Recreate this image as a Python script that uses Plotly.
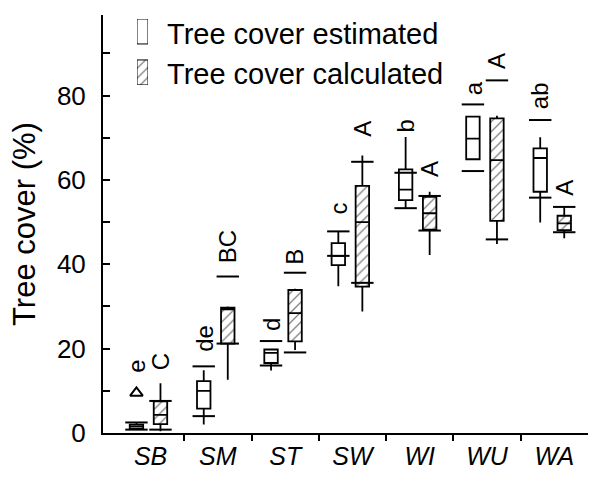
import plotly.graph_objects as go

# ---------------- data ----------------
categories = ["SB", "SM", "ST", "SW", "WI", "WU", "WA"]

# Tree cover estimated (open boxes)
est_q1 = [1.0, 5.8, 16.6, 39.8, 55.2, 64.9, 57.2]
est_median = [1.5, 10.0, 19.0, 42.0, 57.7, 69.8, 65.2]
est_q3 = [2.0, 12.3, 19.8, 45.0, 62.5, 75.0, 67.5]
est_whisker_low = [0.8, 2.0, 14.8, 34.8, 53.3, 64.9, 49.9]
est_whisker_high = [2.5, 14.9, 19.8, 47.8, 70.2, 75.0, 70.1]
est_mark_high = [2.5, 15.8, 21.8, 47.8, 61.7, 77.9, 74.2]
est_mark_low = [0.8, 4.0, 16.0, 42.0, 53.3, 62.1, 55.8]
est_outlier_cat = ["SB"]
est_outlier_val = [9.5]
est_letters = ["e", "de", "d", "c", "b", "a", "ab"]
est_letter_y = [15.8, 22.5, 25.6, 53.3, 72.8, 81.7, 79.9]

# Tree cover calculated (hatched boxes)
calc_q1 = [2.1, 21.2, 21.7, 34.7, 48.2, 50.3, 48.1]
calc_median = [4.3, 29.3, 28.4, 50.0, 52.1, 64.7, 49.7]
calc_q3 = [7.5, 29.7, 33.9, 58.6, 56.0, 74.6, 51.5]
calc_whisker_low = [0.4, 12.6, 19.7, 28.8, 42.2, 44.8, 46.2]
calc_whisker_high = [11.8, 30.0, 34.2, 65.8, 57.2, 75.2, 53.6]
calc_mark_high = [7.6, 37.1, 38.0, 64.3, 56.2, 83.6, 53.6]
calc_mark_low = [0.8, 21.2, 19.1, 35.6, 48.0, 45.9, 47.6]
calc_letters = ["C", "BC", "B", "A", "A", "A", "A"]
calc_letter_y = [16.9, 44.2, 41.8, 72.2, 62.5, 88.2, 58.2]

y_ticks = [0, 20, 40, 60, 80]
y_minor_ticks = [10, 30, 50, 70, 90]
legend_labels = ["Tree cover estimated", "Tree cover calculated"]

# ---------------- layout helpers ----------------
EST_OFF = -0.21
CALC_OFF = 0.147
BOX_W = 0.2
FONT = "Liberation Sans, Arial, sans-serif"

idx = list(range(len(categories)))
est_x = [i + EST_OFF for i in idx]
calc_x = [i + CALC_OFF for i in idx]

fig = go.Figure()

# hatched fill for calculated boxes
fig.add_trace(go.Bar(
    x=calc_x, base=calc_q1, y=[h - l for h, l in zip(calc_q3, calc_q1)],
    width=BOX_W,
    marker=dict(color="white",
                pattern=dict(shape="/", fgcolor="black", bgcolor="white", size=7, solidity=0.18),
                line=dict(width=0)),
    showlegend=False, hoverinfo="skip"))

# boxes (outline, median, whiskers)
fig.add_trace(go.Box(
    x=est_x, q1=est_q1, median=est_median, q3=est_q3,
    lowerfence=est_whisker_low, upperfence=est_whisker_high,
    width=BOX_W, whiskerwidth=0, boxpoints=False,
    fillcolor="white", line=dict(color="black", width=1.8),
    showlegend=False, hoverinfo="skip"))
fig.add_trace(go.Box(
    x=calc_x, q1=calc_q1, median=calc_median, q3=calc_q3,
    lowerfence=calc_whisker_low, upperfence=calc_whisker_high,
    width=BOX_W, whiskerwidth=0, boxpoints=False,
    fillcolor="rgba(0,0,0,0)", line=dict(color="black", width=1.8),
    showlegend=False, hoverinfo="skip"))

# horizontal range marks
mark_style = dict(symbol="line-ew", size=16, color="black", line=dict(color="black", width=2))
fig.add_trace(go.Scatter(
    x=est_x + est_x, y=est_mark_high + est_mark_low, mode="markers",
    marker=mark_style, showlegend=False, hoverinfo="skip"))
fig.add_trace(go.Scatter(
    x=calc_x + calc_x, y=calc_mark_high + calc_mark_low, mode="markers",
    marker=mark_style, showlegend=False, hoverinfo="skip"))

# outlier triangle
fig.add_trace(go.Scatter(
    x=[categories.index(c) + EST_OFF for c in est_outlier_cat], y=est_outlier_val,
    mode="markers",
    marker=dict(symbol="triangle-up-open", size=11, color="black", line=dict(width=2)),
    showlegend=False, hoverinfo="skip"))

# significance letters
annotations = []
for xs, letters, ys in [(est_x, est_letters, est_letter_y), (calc_x, calc_letters, calc_letter_y)]:
    for x, t, y in zip(xs, letters, ys):
        annotations.append(dict(x=x, y=y, xref="x", yref="y", text=t, textangle=-90,
                                showarrow=False, font=dict(size=24, color="black", family=FONT)))

# legend symbols on a small overlay axis
fig.add_trace(go.Bar(
    x=[0], base=[41], y=[25], width=1, xaxis="x2", yaxis="y2",
    marker=dict(color="white", line=dict(color="black", width=1)),
    showlegend=False, hoverinfo="skip"))
fig.add_trace(go.Bar(
    x=[0], base=[0], y=[25], width=1, xaxis="x2", yaxis="y2",
    marker=dict(color="white",
                pattern=dict(shape="/", fgcolor="black", bgcolor="white", size=7, solidity=0.18),
                line=dict(color="black", width=1)),
    showlegend=False, hoverinfo="skip"))
for lab, yp in zip(legend_labels, [0.955, 0.86]):
    annotations.append(dict(x=0.128, y=yp, xref="paper", yref="paper", text=lab,
                            xanchor="left", yanchor="middle", showarrow=False,
                            font=dict(size=29, color="black", family=FONT)))

fig.update_layout(
    width=590, height=482,
    margin=dict(l=103, r=2, t=15, b=49),
    paper_bgcolor="white", plot_bgcolor="white",
    font=dict(family=FONT, color="black"),
    barmode="overlay", boxmode="overlay",
    showlegend=False,
    annotations=annotations,
    xaxis=dict(
        range=[-0.707, 6.5], tickmode="array", tickvals=idx,
        ticktext=[f"<i>{c}</i>" for c in categories], ticks="",
        tickfont=dict(size=25, color="black"),
        showline=True, linecolor="black", linewidth=2,
        showgrid=False, zeroline=False,
        minor=dict(tickmode="array", tickvals=[i + 0.5 for i in idx[:-1]],
                   ticks="outside", ticklen=6, tickwidth=2, tickcolor="black"),
    ),
    yaxis=dict(
        range=[0, 99.1], tickmode="array", tickvals=y_ticks,
        ticks="inside", ticklen=7, tickwidth=2, tickcolor="black",
        tickfont=dict(size=26, color="black"), ticklabelstandoff=10,
        showline=True, linecolor="black", linewidth=2,
        showgrid=False, zeroline=False,
        minor=dict(tickmode="array", tickvals=y_minor_ticks,
                   ticks="inside", ticklen=7, tickwidth=2, tickcolor="black"),
        title=dict(text="Tree cover (%)", font=dict(size=31, color="black"), standoff=12),
    ),
    xaxis2=dict(domain=[0.0701, 0.0928], range=[-0.5, 0.5], anchor="y2",
                visible=False, fixedrange=True),
    yaxis2=dict(domain=[0.8327, 0.9905], range=[0, 66], anchor="x2",
                visible=False, fixedrange=True),
)

fig.write_html("out.html")
